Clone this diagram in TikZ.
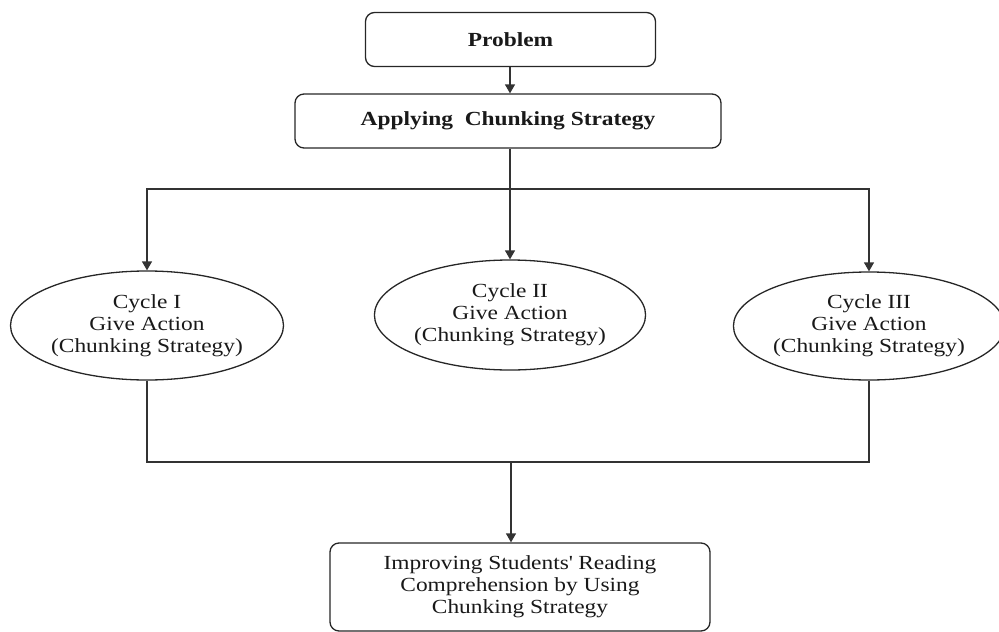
\documentclass[tikz,border=0pt]{standalone}
\usepackage{fontspec}
\setmainfont[FakeStretch=1.17]{Liberation Serif}
\usetikzlibrary{arrows.meta,shapes.geometric}
\begin{document}
\begin{tikzpicture}[x=1pt,y=-1pt,
  every node/.style={font=\fontsize{20}{22}\selectfont, align=center, text=black!90},
  rbox/.style={draw=black!85, line width=1.3pt, rounded corners=9pt, inner sep=0pt},
  cyc/.style={draw=black!85, line width=1.3pt, ellipse, inner sep=0pt},
  conn/.style={draw=black!80, line width=1.3pt},
  arr/.style={conn, -{Triangle[width=10pt,length=9pt]}}]
\useasboundingbox (0,0) rectangle (999,632);
\node[rbox, minimum width=290pt, minimum height=54pt] (prob) at (510.5,39.5) {\textbf{Problem}};
\node[rbox, minimum width=426pt, minimum height=54pt] (app) at (508,121) {\textbf{Applying\ \ Chunking Strategy}};
\node[cyc, minimum width=273pt, minimum height=109pt] (c1) at (147,325.5) {Cycle I\\Give Action\\(Chunking Strategy)};
\node[cyc, minimum width=270pt, minimum height=110pt] (c2) at (510,315) {Cycle II\\Give Action\\(Chunking Strategy)};
\node[cyc, minimum width=260pt, minimum height=108pt] (c3) at (869,326) {Cycle III\\Give Action\\(Chunking Strategy)};
\node[rbox, minimum width=380pt, minimum height=88pt] (res) at (520,587) {Improving Students\textquotesingle{} Reading\\Comprehension by Using\\Chunking Strategy};
\coordinate (split) at (510,189);
\coordinate (join) at (511,462);
\draw[arr] (prob.south -| 510,0) -- (app.north -| 510,0);
\draw[arr] (app.south -| c2.north) -- (c2.north);
\draw[arr] (split) -| (c1.north);
\draw[arr] (split) -| (c3.north);
\draw[conn] (c1.south) |- (join) -| (c3.south);
\draw[arr] (join) -- (join |- res.north);
\end{tikzpicture}
\end{document}
